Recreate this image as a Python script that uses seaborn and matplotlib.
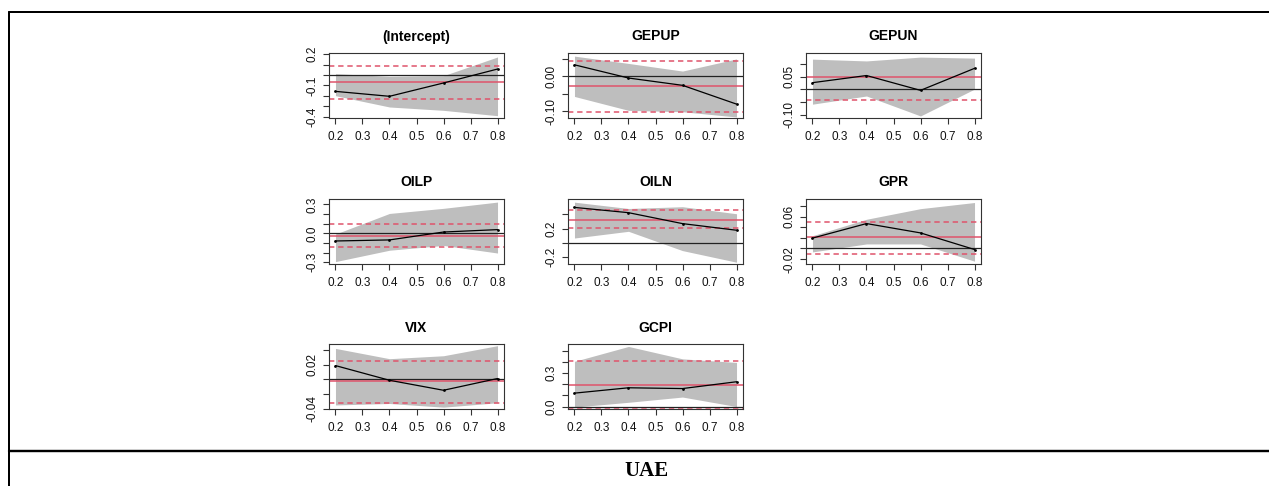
import matplotlib
matplotlib.use("Agg")
import matplotlib.pyplot as plt
from matplotlib.lines import Line2D
import seaborn as sns
import pandas as pd
import numpy as np

# ---------------- data ----------------
taus = [0.2, 0.4, 0.6, 0.8]
panel_names = ["(Intercept)", "GEPUP", "GEPUN", "OILP", "OILN", "GPR", "VIX", "GCPI"]

coef = {
    "(Intercept)": [-0.156, -0.203, -0.076, 0.057],
    "GEPUP": [0.033, -0.005, -0.026, -0.080],
    "GEPUN": [0.026, 0.054, -0.004, 0.082],
    "OILP": [-0.079, -0.068, 0.014, 0.039],
    "OILN": [0.493, 0.420, 0.268, 0.176],
    "GPR": [0.0195, 0.0469, 0.0293, -0.002],
    "VIX": [0.0186, -0.0014, -0.015, 0.001],
    "GCPI": [0.120, 0.168, 0.161, 0.222],
}
upper = {
    "(Intercept)": [0.013, -0.013, -0.006, 0.172],
    "GEPUP": [0.058, 0.037, 0.015, 0.050],
    "GEPUN": [0.118, 0.111, 0.126, 0.122],
    "OILP": [-0.007, 0.207, 0.260, 0.325],
    "OILN": [0.566, 0.478, 0.503, 0.405],
    "GPR": [0.024, 0.055, 0.075, 0.0866],
    "VIX": [0.042, 0.028, 0.032, 0.0457],
    "GCPI": [0.405, 0.538, 0.427, 0.395],
}
lower = {
    "(Intercept)": [-0.197, -0.305, -0.337, -0.388],
    "GEPUP": [-0.058, -0.098, -0.102, -0.117],
    "GEPUN": [-0.058, -0.026, -0.104, 0.001],
    "OILP": [-0.293, -0.175, -0.125, -0.204],
    "OILN": [0.068, 0.161, -0.107, -0.268],
    "GPR": [-0.0065, 0.0085, 0.0085, -0.024],
    "VIX": [-0.035, -0.033, -0.038, -0.032],
    "GCPI": [-0.005, 0.038, 0.085, 0.000],
}
ols = {
    "(Intercept)": -0.067, "GEPUP": -0.028, "GEPUN": 0.050, "OILP": -0.025,
    "OILN": 0.322, "GPR": 0.0208, "VIX": -0.0029, "GCPI": 0.193,
}
ols_lo = {
    "(Intercept)": -0.226, "GEPUP": -0.102, "GEPUN": -0.043, "OILP": -0.143,
    "OILN": 0.210, "GPR": -0.011, "VIX": -0.0319, "GCPI": -0.019,
}
ols_hi = {
    "(Intercept)": 0.083, "GEPUP": 0.044, "GEPUN": 0.150, "OILP": 0.096,
    "OILN": 0.454, "GPR": 0.050, "VIX": 0.0248, "GCPI": 0.405,
}
ylims = {
    "(Intercept)": (-0.41, 0.21), "GEPUP": (-0.12, 0.067), "GEPUN": (-0.112, 0.142),
    "OILP": (-0.318, 0.357), "OILN": (-0.293, 0.61), "GPR": (-0.0293, 0.0932),
    "VIX": (-0.0405, 0.048), "GCPI": (-0.022, 0.56),
}
yticks = {
    "(Intercept)": [-0.4, -0.3, -0.2, -0.1, 0.0, 0.1, 0.2],
    "GEPUP": [-0.10, -0.05, 0.0, 0.05],
    "GEPUN": [-0.10, -0.05, 0.0, 0.05, 0.10],
    "OILP": [-0.3, -0.2, -0.1, 0.0, 0.1, 0.2, 0.3],
    "OILN": [-0.2, 0.0, 0.2, 0.4],
    "GPR": [-0.02, 0.0, 0.02, 0.04, 0.06, 0.08],
    "VIX": [-0.04, -0.02, 0.0, 0.02, 0.04],
    "GCPI": [0.0, 0.1, 0.2, 0.3, 0.4, 0.5],
}
ytick_labels = {
    "(Intercept)": ["-0.4", "", "", "-0.1", "", "", "0.2"],
    "GEPUP": ["-0.10", "", "0.00", ""],
    "GEPUN": ["-0.10", "", "", "0.05", ""],
    "OILP": ["-0.3", "", "", "0.0", "", "", "0.3"],
    "OILN": ["-0.2", "", "0.2", ""],
    "GPR": ["-0.02", "", "", "", "0.06", ""],
    "VIX": ["-0.04", "", "", "0.02", ""],
    "GCPI": ["0.0", "", "", "0.3", "", ""],
}
xticks = [0.2, 0.3, 0.4, 0.5, 0.6, 0.7, 0.8]
xtick_labels = ["0.2", "0.3", "0.4", "0.5", "0.6", "0.7", "0.8"]
caption = "UAE"

# ---------------- style ----------------
sns.set_style("white")
plt.rcParams["font.family"] = ["Liberation Sans", "DejaVu Sans"]
plt.rcParams["text.color"] = "black"

W, H = 1269, 486
fig = plt.figure(figsize=(W / 100, H / 100), dpi=100)

col_left = [329, 568, 806]
row_top = [53, 199, 344]
box_w, box_h = 175, 65

GRAY = "#BEBEBE"
RED = "#DF536B"

for i, name in enumerate(panel_names):
    r, c = divmod(i, 3)
    x0 = col_left[c] / W
    y0 = 1 - (row_top[r] + box_h) / H
    ax = fig.add_axes([x0, y0, box_w / W, box_h / H])
    df = pd.DataFrame({"tau": taus, "coef": coef[name],
                       "lo": lower[name], "hi": upper[name]})
    ax.fill_between(df["tau"], df["lo"], df["hi"], color=GRAY, lw=0, zorder=1)
    sns.lineplot(data=df, x="tau", y="coef", ax=ax, color="black", lw=0.9,
                 marker="o", markersize=2.0, markeredgewidth=0, zorder=3)
    ax.axhline(0, color="#222222", lw=0.9, zorder=2)
    ax.axhline(ols[name], color=RED, lw=1.1, zorder=2)
    ax.axhline(ols_lo[name], color=RED, lw=1.1, ls=(0, (3.5, 2.5)), zorder=2)
    ax.axhline(ols_hi[name], color=RED, lw=1.1, ls=(0, (3.5, 2.5)), zorder=2)
    ax.set_xlim(0.176, 0.824)
    ax.set_ylim(*ylims[name])
    ax.set_xticks(xticks)
    ax.set_xticklabels(xtick_labels)
    ax.set_yticks(yticks[name])
    ax.set_yticklabels(ytick_labels[name], rotation=90, va="center")
    ax.set_xlabel("")
    ax.set_ylabel("")
    ax.set_title(name, fontsize=10, fontweight="bold", pad=9, color="black")
    ax.tick_params(axis="both", which="both", direction="out", length=4.5,
                   width=0.8, color="#333333", labelsize=8.5, labelcolor="#111111",
                   bottom=True, left=True)
    ax.tick_params(axis="x", pad=5)
    ax.tick_params(axis="y", pad=3)
    for sp in ax.spines.values():
        sp.set_visible(True)
        sp.set_color("#333333")
        sp.set_linewidth(0.8)
    ax.set_facecolor("white")

# ---------------- table frame ----------------
lw_frame = 2.0 * 72 / 100
fig.add_artist(Line2D([9 / W, 1.0], [1 - 12 / H, 1 - 12 / H], transform=fig.transFigure,
                      color="black", lw=lw_frame))
fig.add_artist(Line2D([9 / W, 9 / W], [0.0, 1 - 12 / H], transform=fig.transFigure,
                      color="black", lw=lw_frame))
fig.add_artist(Line2D([9 / W, 1.0], [1 - 451 / H, 1 - 451 / H], transform=fig.transFigure,
                      color="black", lw=2.4 * 72 / 100))
fig.text(646 / W, 1 - 471 / H, caption, ha="center", va="center", color="black",
         fontsize=15, fontweight="bold", family=["Liberation Serif", "DejaVu Serif"])

fig.savefig("out.png", dpi=100, facecolor="white")
